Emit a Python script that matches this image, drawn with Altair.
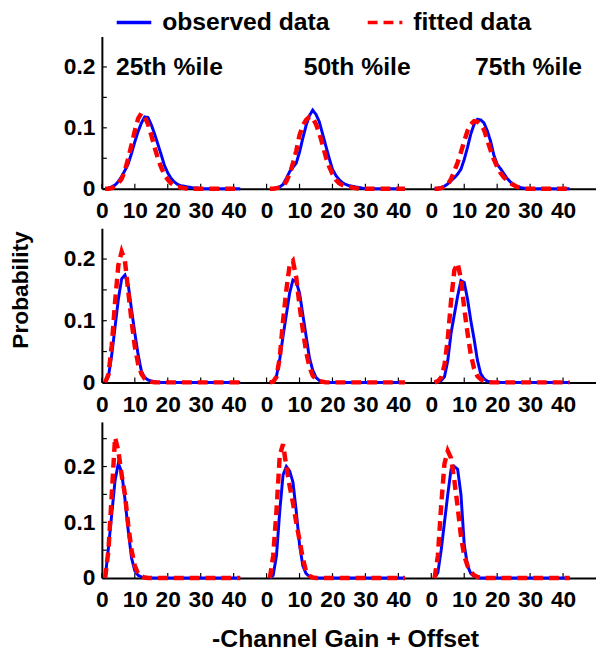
import altair as alt
import pandas as pd

FONT = "Liberation Sans"

# ---------------- data ----------------
bins = list(range(1, 43))                    # histogram bins (x values within each panel)
panel_offset = [0, 50, 100]                  # where each panel sits on the row's shared x axis
panel_titles = ["25th %ile", "50th %ile", "75th %ile"]
title_x = [20.5, 77.5, 129.5]
title_y = [0.2, 0.2, 0.2]
x_tick_values = [0, 10, 20, 30, 40, 50, 60, 70, 80, 90, 100, 110, 120, 130, 140]
y_label_values = [0, 0.1, 0.2]
y_minor_ticks = [0, 0.05, 0.1, 0.15, 0.2, 0.25]
row_ymax = [0.25, 0.25, 0.28]
row_heights = [154, 156, 158]
series_names = ["observed data", "fitted data"]

# Row 1
obs_r1_p1 = [0, 0.001, 0.003, 0.006, 0.012, 0.02, 0.03, 0.041, 0.058, 0.077, 0.094, 0.108, 0.118, 0.117, 0.105,
             0.09, 0.073, 0.056, 0.038, 0.026, 0.017, 0.011, 0.007, 0.005, 0.004, 0.003, 0.002, 0.001, 0.001,
             0, 0, 0, 0, 0, 0, 0, 0, 0, 0, 0, 0, 0]
fit_r1_p1 = [0, 0, 0.001, 0.004, 0.009, 0.016, 0.03, 0.05, 0.072, 0.095, 0.115, 0.124, 0.118, 0.106, 0.088,
             0.068, 0.05, 0.035, 0.023, 0.015, 0.009, 0.005, 0.003, 0.002, 0.001,
             0, 0, 0, 0, 0, 0, 0, 0, 0, 0, 0, 0, 0, 0, 0, 0, 0]
obs_r1_p2 = [0, 0, 0.001, 0.003, 0.007, 0.017, 0.028, 0.035, 0.042, 0.06, 0.083, 0.104, 0.12, 0.129, 0.122,
             0.11, 0.09, 0.07, 0.05, 0.032, 0.022, 0.015, 0.01, 0.007, 0.005, 0.004, 0.003, 0.002, 0.001,
             0, 0, 0, 0, 0, 0, 0, 0, 0, 0, 0, 0, 0]
fit_r1_p2 = [0, 0, 0.001, 0.002, 0.004, 0.012, 0.024, 0.042, 0.062, 0.088, 0.104, 0.113, 0.118, 0.116, 0.106,
             0.091, 0.072, 0.052, 0.036, 0.024, 0.015, 0.009, 0.006, 0.004, 0.003, 0.002, 0.001,
             0, 0, 0, 0, 0, 0, 0, 0, 0, 0, 0, 0, 0, 0, 0]
obs_r1_p3 = [0, 0.001, 0.002, 0.004, 0.008, 0.013, 0.018, 0.024, 0.032, 0.048, 0.068, 0.09, 0.106, 0.114, 0.113,
             0.108, 0.095, 0.078, 0.055, 0.04, 0.033, 0.025, 0.017, 0.011, 0.007, 0.004, 0.002, 0.001,
             0, 0, 0, 0, 0, 0, 0, 0, 0, 0, 0, 0, 0, 0]
fit_r1_p3 = [0, 0, 0.001, 0.003, 0.007, 0.016, 0.029, 0.043, 0.06, 0.078, 0.095, 0.106, 0.111, 0.11, 0.105,
             0.097, 0.08, 0.063, 0.048, 0.036, 0.026, 0.019, 0.014, 0.009, 0.006, 0.003, 0.002, 0.001,
             0, 0, 0, 0, 0, 0, 0, 0, 0, 0, 0, 0, 0, 0]

# Row 2
obs_r2_p1 = [0, 0.01, 0.045, 0.09, 0.135, 0.168, 0.174, 0.158, 0.118, 0.08, 0.045, 0.018, 0.008, 0.004, 0.002,
             0.001, 0, 0, 0, 0, 0, 0, 0, 0, 0, 0, 0, 0, 0, 0, 0, 0, 0, 0, 0, 0, 0, 0, 0, 0, 0, 0]
fit_r2_p1 = [0, 0.013, 0.06, 0.13, 0.19, 0.212, 0.197, 0.148, 0.1, 0.058, 0.03, 0.014, 0.006, 0.002, 0.001,
             0, 0, 0, 0, 0, 0, 0, 0, 0, 0, 0, 0, 0, 0, 0, 0, 0, 0, 0, 0, 0, 0, 0, 0, 0, 0, 0]
obs_r2_p2 = [0, 0.002, 0.01, 0.038, 0.075, 0.11, 0.145, 0.166, 0.163, 0.145, 0.11, 0.075, 0.04, 0.02, 0.008,
             0.003, 0.001, 0, 0, 0, 0, 0, 0, 0, 0, 0, 0, 0, 0, 0, 0, 0, 0, 0, 0, 0, 0, 0, 0, 0, 0, 0]
fit_r2_p2 = [0, 0.001, 0.009, 0.04, 0.1, 0.15, 0.19, 0.197, 0.17, 0.125, 0.085, 0.05, 0.025, 0.011, 0.005,
             0.002, 0.001, 0, 0, 0, 0, 0, 0, 0, 0, 0, 0, 0, 0, 0, 0, 0, 0, 0, 0, 0, 0, 0, 0, 0, 0, 0]
obs_r2_p3 = [0, 0.001, 0.003, 0.009, 0.035, 0.08, 0.11, 0.14, 0.165, 0.162, 0.135, 0.1, 0.07, 0.036, 0.014,
             0.006, 0.002, 0.001, 0, 0, 0, 0, 0, 0, 0, 0, 0, 0, 0, 0, 0, 0, 0, 0, 0, 0, 0, 0, 0, 0, 0, 0]
fit_r2_p3 = [0, 0.002, 0.008, 0.028, 0.07, 0.132, 0.182, 0.193, 0.168, 0.12, 0.08, 0.045, 0.022, 0.01, 0.005,
             0.002, 0.001, 0, 0, 0, 0, 0, 0, 0, 0, 0, 0, 0, 0, 0, 0, 0, 0, 0, 0, 0, 0, 0, 0, 0, 0, 0]

# Row 3
obs_r3_p1 = [0, 0.055, 0.115, 0.175, 0.206, 0.19, 0.142, 0.085, 0.036, 0.013, 0.005, 0.002, 0.001, 0, 0,
             0, 0, 0, 0, 0, 0, 0, 0, 0, 0, 0, 0, 0, 0, 0, 0, 0, 0, 0, 0, 0, 0, 0, 0, 0, 0, 0]
fit_r3_p1 = [0, 0.05, 0.15, 0.252, 0.228, 0.185, 0.15, 0.095, 0.05, 0.022, 0.008, 0.003, 0.001, 0, 0,
             0, 0, 0, 0, 0, 0, 0, 0, 0, 0, 0, 0, 0, 0, 0, 0, 0, 0, 0, 0, 0, 0, 0, 0, 0, 0, 0]
obs_r3_p2 = [0, 0.005, 0.04, 0.12, 0.185, 0.2, 0.192, 0.172, 0.12, 0.06, 0.022, 0.008, 0.003, 0.001, 0,
             0, 0, 0, 0, 0, 0, 0, 0, 0, 0, 0, 0, 0, 0, 0, 0, 0, 0, 0, 0, 0, 0, 0, 0, 0, 0, 0]
fit_r3_p2 = [0, 0.04, 0.12, 0.22, 0.24, 0.2, 0.165, 0.135, 0.1, 0.068, 0.035, 0.012, 0.004, 0.001, 0,
             0, 0, 0, 0, 0, 0, 0, 0, 0, 0, 0, 0, 0, 0, 0, 0, 0, 0, 0, 0, 0, 0, 0, 0, 0, 0, 0]
obs_r3_p3 = [0, 0.01, 0.05, 0.1, 0.15, 0.195, 0.2, 0.195, 0.15, 0.06, 0.022, 0.008, 0.003, 0.001, 0,
             0, 0, 0, 0, 0, 0, 0, 0, 0, 0, 0, 0, 0, 0, 0, 0, 0, 0, 0, 0, 0, 0, 0, 0, 0, 0, 0]
fit_r3_p3 = [0, 0.04, 0.13, 0.205, 0.228, 0.215, 0.175, 0.128, 0.075, 0.04, 0.022, 0.011, 0.005, 0.002, 0.001,
             0, 0, 0, 0, 0, 0, 0, 0, 0, 0, 0, 0, 0, 0, 0, 0, 0, 0, 0, 0, 0, 0, 0, 0, 0, 0, 0]

observed = [[obs_r1_p1, obs_r1_p2, obs_r1_p3],
            [obs_r2_p1, obs_r2_p2, obs_r2_p3],
            [obs_r3_p1, obs_r3_p2, obs_r3_p3]]
fitted = [[fit_r1_p1, fit_r1_p2, fit_r1_p3],
          [fit_r2_p1, fit_r2_p2, fit_r2_p3],
          [fit_r3_p1, fit_r3_p2, fit_r3_p3]]

# ---------------- chart ----------------
color_scale = alt.Scale(domain=series_names, range=["#0000ff", "#ff0000"])
dash_scale = alt.Scale(domain=series_names, range=[[1, 0], [10, 6]])
legend = alt.Legend(title=None)


def long_df(series_lists, name):
    recs = []
    for p, vals in enumerate(series_lists):
        for b, v in zip(bins, vals):
            recs.append({"x": panel_offset[p] + b, "y": v, "panel": p, "series": name})
    return pd.DataFrame(recs)


def row_chart(r):
    h = row_heights[r]
    yscale = alt.Scale(domain=[0, row_ymax[r]], nice=False, zero=True)
    xscale = alt.Scale(domain=[0, 150], nice=False)

    xaxis_kwargs = dict(values=x_tick_values, labelExpr="'' + (datum.value % 50)",
                        labelFlush=False, labelOverlap=False, labelPadding=11, ticks=False)
    if r == 2:
        xaxis = alt.Axis(title="-Channel Gain + Offset", titleFontSize=25, titlePadding=15,
                         titleX=246, **xaxis_kwargs)
    else:
        xaxis = alt.Axis(title=None, **xaxis_kwargs)

    yaxis_kwargs = dict(values=y_label_values,
                        labelExpr="datum.value == 0 ? '0' : format(datum.value, '.1f')",
                        labelPadding=7, ticks=False)
    if r == 1:
        yaxis = alt.Axis(title="Probability", titleFontSize=23, titlePadding=31, titleY=62, **yaxis_kwargs)
    else:
        yaxis = alt.Axis(title=None, **yaxis_kwargs)

    X = alt.X("x:Q", scale=xscale, axis=xaxis)
    Y = alt.Y("y:Q", scale=yscale, axis=yaxis)

    obs = alt.Chart(long_df(observed[r], series_names[0])).mark_line(strokeWidth=3).encode(
        x=X, y=Y, detail="panel:N",
        color=alt.Color("series:N", scale=color_scale, legend=legend),
        strokeDash=alt.StrokeDash("series:N", scale=dash_scale, legend=legend),
    )
    fit = alt.Chart(long_df(fitted[r], series_names[1])).mark_line(strokeWidth=4.5).encode(
        x=X, y=Y, detail="panel:N",
        color=alt.Color("series:N", scale=color_scale, legend=legend),
        strokeDash=alt.StrokeDash("series:N", scale=dash_scale, legend=legend),
    )
    yt = alt.Chart(pd.DataFrame({"y": y_minor_ticks[: 5 if row_ymax[r] < 0.26 else 6]})).mark_rule(
        color="black", strokeWidth=1.2).encode(
        y=alt.Y("y:Q", scale=yscale, axis=yaxis), x=alt.value(0), x2=alt.value(5))
    xt = alt.Chart(pd.DataFrame({"x": x_tick_values})).mark_rule(color="black", strokeWidth=1.2).encode(
        x=alt.X("x:Q", scale=xscale, axis=xaxis), y=alt.value(h), y2=alt.value(h - 5))

    layers = [yt, xt, obs, fit]
    if r == 0:
        tdf = pd.DataFrame({"x": title_x, "y": title_y, "t": panel_titles})
        titles = alt.Chart(tdf).mark_text(fontSize=25, fontWeight="bold", font=FONT, color="black",
                                          align="center", baseline="middle").encode(
            x=alt.X("x:Q", scale=xscale, axis=xaxis), y=alt.Y("y:Q", scale=yscale, axis=yaxis), text="t:N")
        layers.append(titles)
    return alt.layer(*layers).properties(width=500, height=h)


chart = alt.vconcat(row_chart(0), row_chart(1), row_chart(2), spacing=6).properties(
    padding={"left": 2, "top": -9, "right": 0, "bottom": 0}
).configure_view(stroke=None).configure_axis(
    labelFont=FONT, labelFontSize=23, labelFontWeight="bold", labelColor="black",
    titleFont=FONT, titleFontWeight="bold", titleColor="black",
    domainColor="black", domainWidth=2, grid=False,
).configure_legend(
    orient="none", legendX=13, legendY=-34, direction="horizontal",
    symbolType="stroke", symbolSize=1225, symbolStrokeWidth=3.5,
    labelFont=FONT, labelFontSize=25, labelFontWeight="bold", labelColor="black",
    labelOffset=9, columnPadding=31, labelLimit=400, padding=0,
)

chart.save("out.html", embed_options={"renderer": "svg", "actions": False})
